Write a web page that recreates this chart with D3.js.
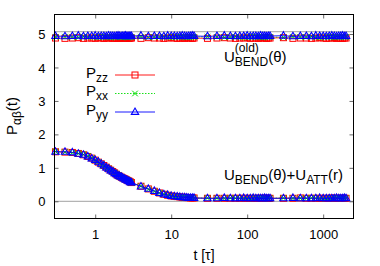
<!DOCTYPE html>
<html lang="en">
<head>
    <meta charset="UTF-8">
    <title>P alpha beta (t)</title>
    <script src="https://d3js.org/d3.v7.min.js"></script>
    <style>
        body { margin: 0; background: #fff; }
        text { font-family: "Liberation Sans", Arial, sans-serif; fill: #000; }
    </style>
</head>
<body>
<div id="chart"></div>
<script>
    // time points (tau)
    const tVals = [
        0.3, 0.4, 0.5, 0.6, 0.7, 0.8, 0.9, 1.0, 1.1, 1.2, 1.3, 1.4, 1.5, 1.6, 1.7, 1.8, 1.9, 2.0, 2.1, 2.2, 2.3, 2.4, 2.5, 2.6, 2.7, 2.8, 2.9,
        3, 4, 5, 6, 7, 8, 9, 10, 11, 12, 13, 14, 15, 16, 17, 18, 19,
        20, 30, 40, 50, 60, 70, 80, 90, 100, 110, 120, 130, 140, 150, 160, 170, 180, 190,
        200, 300, 400, 500, 600, 700, 800, 900, 1000, 1100, 1200, 1300, 1400, 1500, 1600, 1700, 1800, 1900, 2000
    ];

    // U_BEND(old) run
    const zzOld = [
        4.88, 4.87, 4.88, 4.89, 4.87, 4.88, 4.88, 4.87, 4.89, 4.88, 4.87, 4.88, 4.88, 4.89, 4.87, 4.88, 4.88, 4.87, 4.88, 4.89, 4.88, 4.87, 4.88, 4.88, 4.89, 4.87, 4.88,
        4.88, 4.87, 4.89, 4.88, 4.88, 4.87, 4.88, 4.89, 4.88, 4.87, 4.88, 4.88, 4.87, 4.89, 4.88, 4.88, 4.87,
        4.88, 4.87, 4.88, 4.89, 4.88, 4.87, 4.88, 4.88, 4.89, 4.87, 4.88, 4.88, 4.87, 4.88, 4.89, 4.88, 4.87, 4.88,
        4.88, 4.89, 4.87, 4.88, 4.88, 4.87, 4.88, 4.89, 4.88, 4.87, 4.88, 4.88, 4.89, 4.87, 4.88, 4.88, 4.87, 4.88, 4.88
    ];
    const xxOld = [
        4.91, 4.92, 4.91, 4.90, 4.92, 4.91, 4.91, 4.92, 4.90, 4.91, 4.92, 4.91, 4.91, 4.90, 4.92, 4.91, 4.91, 4.92, 4.91, 4.90, 4.91, 4.92, 4.91, 4.91, 4.90, 4.92, 4.91,
        4.91, 4.92, 4.90, 4.91, 4.91, 4.92, 4.91, 4.90, 4.91, 4.92, 4.91, 4.91, 4.92, 4.90, 4.91, 4.91, 4.92,
        4.91, 4.92, 4.91, 4.90, 4.91, 4.92, 4.91, 4.91, 4.90, 4.92, 4.91, 4.91, 4.92, 4.91, 4.90, 4.91, 4.92, 4.91,
        4.91, 4.90, 4.92, 4.91, 4.91, 4.92, 4.91, 4.90, 4.91, 4.92, 4.91, 4.91, 4.90, 4.92, 4.91, 4.91, 4.92, 4.91, 4.91
    ];
    const yyOld = [
        4.94, 4.93, 4.94, 4.95, 4.93, 4.94, 4.94, 4.95, 4.93, 4.94, 4.94, 4.93, 4.95, 4.94, 4.94, 4.93, 4.94, 4.95, 4.94, 4.93, 4.94, 4.94, 4.95, 4.93, 4.94, 4.94, 4.93,
        4.94, 4.95, 4.93, 4.94, 4.94, 4.93, 4.95, 4.94, 4.94, 4.93, 4.94, 4.95, 4.94, 4.93, 4.94, 4.94, 4.95,
        4.94, 4.93, 4.94, 4.95, 4.94, 4.93, 4.94, 4.94, 4.95, 4.93, 4.94, 4.94, 4.93, 4.95, 4.94, 4.94, 4.93, 4.94,
        4.94, 4.95, 4.93, 4.94, 4.94, 4.93, 4.95, 4.94, 4.94, 4.93, 4.94, 4.95, 4.94, 4.93, 4.94, 4.94, 4.95, 4.93, 4.94
    ];

    // U_BEND + U_ATT run
    const zzAtt = [
        1.48, 1.47, 1.46, 1.43, 1.39, 1.34, 1.29, 1.23, 1.17, 1.12, 1.07, 1.02, 0.97, 0.93, 0.89, 0.85, 0.81, 0.77, 0.75, 0.72, 0.70, 0.68, 0.66, 0.64, 0.62, 0.60, 0.58,
        0.56, 0.45, 0.37, 0.30, 0.25, 0.21, 0.18, 0.16, 0.15, 0.14, 0.13, 0.12, 0.12, 0.11, 0.11, 0.10, 0.10,
        0.10, 0.09, 0.09, 0.09, 0.09, 0.09, 0.09, 0.09, 0.09, 0.09, 0.09, 0.09, 0.09, 0.09, 0.09, 0.09, 0.09, 0.09,
        0.09, 0.09, 0.09, 0.10, 0.09, 0.09, 0.09, 0.09, 0.09, 0.09, 0.09, 0.10, 0.09, 0.09, 0.09, 0.09, 0.09, 0.09, 0.09
    ];
    const xxAtt = [
        1.49, 1.47, 1.45, 1.43, 1.40, 1.35, 1.29, 1.22, 1.17, 1.11, 1.06, 1.02, 0.98, 0.93, 0.88, 0.85, 0.81, 0.78, 0.74, 0.72, 0.70, 0.67, 0.66, 0.63, 0.62, 0.60, 0.58,
        0.55, 0.45, 0.36, 0.30, 0.25, 0.21, 0.18, 0.17, 0.15, 0.14, 0.13, 0.12, 0.11, 0.11, 0.10, 0.10, 0.10,
        0.09, 0.10, 0.09, 0.09, 0.10, 0.09, 0.09, 0.09, 0.10, 0.09, 0.09, 0.09, 0.10, 0.09, 0.09, 0.10, 0.09, 0.09,
        0.09, 0.10, 0.09, 0.09, 0.09, 0.10, 0.09, 0.09, 0.09, 0.09, 0.10, 0.09, 0.09, 0.09, 0.10, 0.09, 0.09, 0.09, 0.09
    ];
    const yyAtt = [
        1.48, 1.48, 1.46, 1.42, 1.39, 1.34, 1.28, 1.23, 1.18, 1.12, 1.07, 1.01, 0.97, 0.92, 0.89, 0.84, 0.81, 0.77, 0.75, 0.73, 0.70, 0.68, 0.65, 0.64, 0.61, 0.60, 0.57,
        0.56, 0.44, 0.37, 0.31, 0.25, 0.21, 0.19, 0.16, 0.15, 0.14, 0.13, 0.12, 0.12, 0.11, 0.10, 0.10, 0.10,
        0.10, 0.09, 0.09, 0.10, 0.09, 0.09, 0.09, 0.10, 0.09, 0.09, 0.10, 0.09, 0.09, 0.09, 0.09, 0.10, 0.09, 0.09,
        0.09, 0.09, 0.10, 0.09, 0.09, 0.09, 0.09, 0.10, 0.09, 0.09, 0.09, 0.09, 0.09, 0.10, 0.09, 0.09, 0.09, 0.10, 0.09
    ];

    const xTicks = [1, 10, 100, 1000];
    const yTicks = [0, 1, 2, 3, 4, 5];
    const refLines = [0, 5.07];

    const width = 380, height = 266;
    const plotL = 54.5, plotR = 353.5, plotT = 14.5, plotB = 218.5;

    const svg = d3.select("#chart").append("svg")
        .attr("width", width)
        .attr("height", height);

    const x = d3.scaleLog().domain([0.2913, 2506]).range([plotL, plotR]);
    const y = d3.scaleLinear().domain([-0.514, 5.583]).range([plotB, plotT]);

    // grey reference lines
    svg.selectAll(".ref")
        .data(refLines)
        .enter().append("line")
        .attr("x1", plotL).attr("x2", plotR)
        .attr("y1", d => y(d)).attr("y2", d => y(d))
        .attr("stroke", "#b4b4b4")
        .attr("stroke-width", 1.3);

    // ticks on all four sides, pointing inward
    function tickStyle(g) {
        g.select(".domain").remove();
        g.selectAll(".tick line").attr("stroke", "#444").attr("stroke-width", 0.8);
    }
    svg.append("g").attr("transform", `translate(0,${plotB})`)
        .call(d3.axisBottom(x).tickValues(xTicks).tickSize(-4).tickPadding(0).tickFormat(d3.format("d")))
        .call(tickStyle)
        .call(g => g.selectAll("text").attr("y", 20).attr("dy", null)
            .style("font-size", "13px").style("font-family", "'Liberation Sans', Arial, sans-serif").attr("fill", "#000"));
    svg.append("g").attr("transform", `translate(0,${plotT})`)
        .call(d3.axisTop(x).tickValues(xTicks).tickSize(-4).tickFormat(""))
        .call(tickStyle);
    svg.append("g").attr("transform", `translate(${plotL},0)`)
        .call(d3.axisLeft(y).tickValues(yTicks).tickSize(-4).tickPadding(0).tickFormat(d3.format("d")))
        .call(tickStyle)
        .call(g => g.selectAll("text").attr("x", -9).attr("dy", "0.35em")
            .style("font-size", "13px").style("font-family", "'Liberation Sans', Arial, sans-serif").attr("fill", "#000"));
    svg.append("g").attr("transform", `translate(${plotR},0)`)
        .call(d3.axisRight(y).tickValues(yTicks).tickSize(-4).tickFormat(""))
        .call(tickStyle);

    // series
    const series = [
        { name: "zz", color: "#ff0000", dash: null, shape: "square" },
        { name: "xx", color: "#00dd00", dash: "1.5,1.5", shape: "cross" },
        { name: "yy", color: "#0000ff", dash: null, shape: "tri" }
    ];
    const runs = [
        { zz: zzOld, xx: xxOld, yy: yyOld },
        { zz: zzAtt, xx: xxAtt, yy: yyAtt }
    ];

    function marker(g, shape, color, cx, cy) {
        if (shape === "square") {
            g.append("rect").attr("x", cx - 3).attr("y", cy - 3).attr("width", 6).attr("height", 6)
                .attr("fill", "none").attr("stroke", color).attr("stroke-width", 1);
        } else if (shape === "cross") {
            g.append("path").attr("d", `M${cx - 2.8},${cy - 2.8}L${cx + 2.8},${cy + 2.8}M${cx - 2.8},${cy + 2.8}L${cx + 2.8},${cy - 2.8}`)
                .attr("stroke", color).attr("stroke-width", 1);
        } else {
            g.append("path").attr("d", `M${cx},${cy - 4}L${cx + 3.7},${cy + 2.4}L${cx - 3.7},${cy + 2.4}Z`)
                .attr("fill", "none").attr("stroke", color).attr("stroke-width", 1.1);
        }
    }

    const line = d3.line().x(d => x(d[0])).y(d => y(d[1]));

    runs.forEach(run => {
        series.forEach(s => {
            const pts = tVals.map((t, i) => [t, run[s.name][i]]);
            svg.append("path").datum(pts)
                .attr("d", line)
                .attr("fill", "none")
                .attr("stroke", s.color)
                .attr("stroke-width", 0.9)
                .attr("stroke-dasharray", s.dash);
            const g = svg.append("g");
            pts.forEach(p => marker(g, s.shape, s.color, x(p[0]), y(p[1])));
        });
    });

    // frame
    svg.append("rect")
        .attr("x", plotL).attr("y", plotT)
        .attr("width", plotR - plotL).attr("height", plotB - plotT)
        .attr("fill", "none").attr("stroke", "#000").attr("stroke-width", 1);

    // text with sub/superscripts, gnuplot style
    function rich(parent, x0, y0, segs, size) {
        const g = parent.append("g");
        let cx = x0;
        segs.forEach(s => {
            let w = 0;
            if (s.t) {
                const el = g.append("text").attr("x", cx).attr("y", y0).style("font-size", size + "px").text(s.t);
                w = el.node().getComputedTextLength();
            }
            if (s.sub) {
                const el = g.append("text").attr("x", cx).attr("y", y0 + size * 0.28).style("font-size", size * 0.8 + "px").text(s.sub);
                w = Math.max(w, el.node().getComputedTextLength());
            }
            if (s.sup) {
                const el = g.append("text").attr("x", cx).attr("y", y0 - size * 0.64).style("font-size", size * 0.8 + "px").text(s.sup);
                w = Math.max(w, el.node().getComputedTextLength());
            }
            cx += w;
        });
        return g;
    }

    // legend
    const legendY = [75, 93.5, 112];
    series.forEach((s, i) => {
        const ly = legendY[i];
        rich(svg, 86, ly + 2.5, [{ t: "P" }, { sub: s.name }], 15);
        svg.append("line").attr("x1", 115).attr("x2", 155).attr("y1", ly).attr("y2", ly)
            .attr("stroke", s.color).attr("stroke-width", 0.9).attr("stroke-dasharray", s.dash);
        marker(svg, s.shape, s.color, 135, ly);
    });

    // curve labels
    rich(svg, 224, 61.5, [{ t: "U" }, { sub: "BEND", sup: "(old)" }, { t: "(θ)" }], 15);
    rich(svg, 224, 179.5, [{ t: "U" }, { sub: "BEND" }, { t: "(θ)+U" }, { sub: "ATT" }, { t: "(r)" }], 15);

    // axis titles
    const yl = svg.append("g").attr("transform", "translate(17,135) rotate(-90)");
    rich(yl, 0, 0, [{ t: "P" }, { sub: "αβ" }, { t: "(t)" }], 15);
    svg.append("text").attr("x", 204).attr("y", 260).attr("text-anchor", "middle")
        .style("font-size", "14px").text("t [τ]");
</script>
</body>
</html>
